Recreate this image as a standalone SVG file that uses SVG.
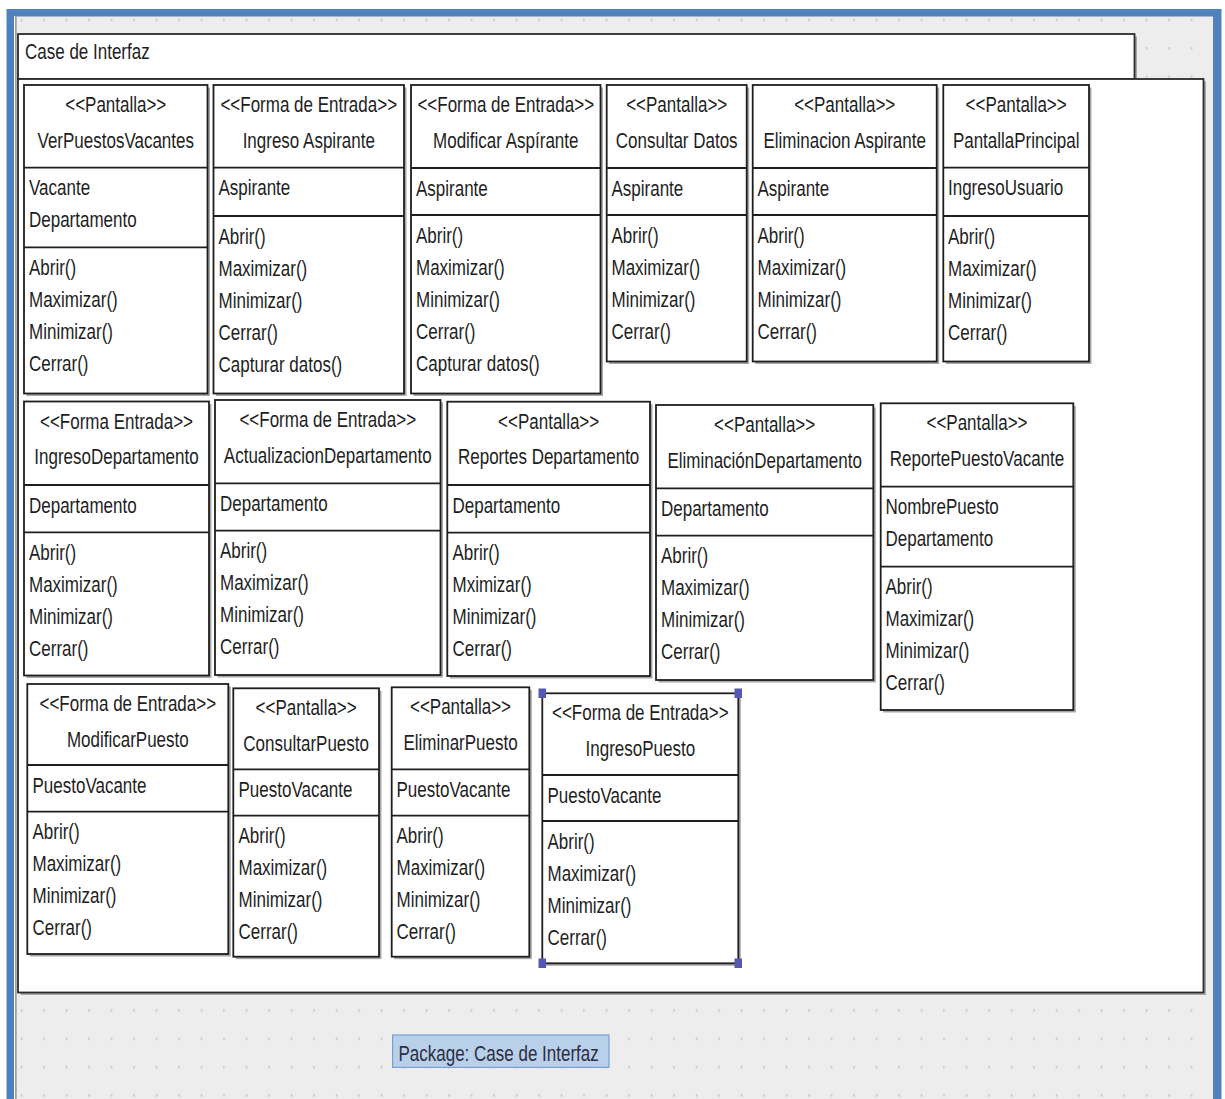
<svg xmlns="http://www.w3.org/2000/svg" width="1225" height="1099" viewBox="0 0 1225 1099">
  <style>
    .box{fill:#fff;stroke:#1e1e1e;stroke-width:1.8}
    .pk{fill:#fff;stroke:#2a2a2a;stroke-width:1.8}
    .sh{fill:#a8a8a8}
    .sep{stroke:#1e1e1e;stroke-width:1.8}
    text{font-family:"Liberation Sans",Arial,Helvetica,sans-serif;font-size:17px;fill:#1e1e1e}
    .c{text-anchor:middle}
    .hd{fill:#5656b4}
    .lbl{fill:#b9d0eb;stroke:#7b9fd4;stroke-width:1.2}
    .lt{fill:#2e2e40}
  </style>
  <defs>
    <pattern id="grid" x="20.75" y="18.8" width="22.5" height="28.3" patternUnits="userSpaceOnUse">
      <rect x="0" y="0" width="1.5" height="2.5" fill="#c3c3c3"/>
    </pattern>
  </defs>

  <!-- window frame and canvas -->
  <rect x="0" y="0" width="1225" height="1099" fill="#fff"/>
  <rect x="6.5" y="9" width="1215" height="1090" fill="#4f81bd"/>
  <rect x="14" y="16.5" width="1199" height="1082.5" fill="#ededed"/>
  <rect x="14" y="16.5" width="1199" height="1082.5" fill="url(#grid)"/>
  <line x1="14.5" y1="16.5" x2="14.5" y2="1099" stroke="#fafafa" stroke-width="1"/>
  <line x1="15.9" y1="16.5" x2="15.9" y2="1099" stroke="#8c8c8c" stroke-width="1.4"/>

  <!-- package -->
  <g id="pkg-case-de-interfaz">
    <rect class="sh" x="20.5" y="36.5" width="1116.5" height="45"/>
    <rect class="sh" x="20.5" y="81.5" width="1185.5" height="913.5"/>
    <rect class="pk" x="18" y="34" width="1116.5" height="45"/>
    <rect class="pk" x="18" y="79" width="1185.5" height="913.5"/>
    <text transform="translate(25 59) scale(1 1.3)">Case de Interfaz</text>
  </g>

  <!-- row 1 -->
  <g id="n-verpuestosvacantes">
    <rect class="sh" x="26.5" y="87.5" width="183.5" height="308.5"/>
    <rect class="box" x="24" y="85" width="183.5" height="308.5"/>
    <line class="sep" x1="24" y1="167.7" x2="207.5" y2="167.7"/>
    <line class="sep" x1="24" y1="247.3" x2="207.5" y2="247.3"/>
    <text class="c" transform="translate(115.75 112) scale(1 1.3)">&lt;&lt;Pantalla&gt;&gt;</text>
    <text class="c" transform="translate(115.75 147.5) scale(1 1.3)">VerPuestosVacantes</text>
    <text transform="translate(29 195.2) scale(1 1.3)">Vacante</text>
    <text transform="translate(29 227.2) scale(1 1.3)">Departamento</text>
    <text transform="translate(29 274.8) scale(1 1.3)">Abrir()</text>
    <text transform="translate(29 306.8) scale(1 1.3)">Maximizar()</text>
    <text transform="translate(29 338.8) scale(1 1.3)">Minimizar()</text>
    <text transform="translate(29 370.8) scale(1 1.3)">Cerrar()</text>
  </g>

  <g id="n-ingreso-aspirante">
    <rect class="sh" x="216" y="87.5" width="190.5" height="308.5"/>
    <rect class="box" x="213.5" y="85" width="190.5" height="308.5"/>
    <line class="sep" x1="213.5" y1="167.7" x2="404" y2="167.7"/>
    <line class="sep" x1="213.5" y1="216" x2="404" y2="216"/>
    <text class="c" transform="translate(308.75 112) scale(1 1.3)">&lt;&lt;Forma de Entrada&gt;&gt;</text>
    <text class="c" transform="translate(308.75 147.5) scale(1 1.3)">Ingreso Aspirante</text>
    <text transform="translate(218.5 195.2) scale(1 1.3)">Aspirante</text>
    <text transform="translate(218.5 243.5) scale(1 1.3)">Abrir()</text>
    <text transform="translate(218.5 275.5) scale(1 1.3)">Maximizar()</text>
    <text transform="translate(218.5 307.5) scale(1 1.3)">Minimizar()</text>
    <text transform="translate(218.5 339.5) scale(1 1.3)">Cerrar()</text>
    <text transform="translate(218.5 371.5) scale(1 1.3)">Capturar datos()</text>
  </g>

  <g id="n-modificar-aspirante">
    <rect class="sh" x="413.5" y="87.5" width="189.5" height="308.5"/>
    <rect class="box" x="411" y="85" width="189.5" height="308.5"/>
    <line class="sep" x1="411" y1="168" x2="600.5" y2="168"/>
    <line class="sep" x1="411" y1="215" x2="600.5" y2="215"/>
    <text class="c" transform="translate(505.75 112) scale(1 1.3)">&lt;&lt;Forma de Entrada&gt;&gt;</text>
    <text class="c" transform="translate(505.75 147.5) scale(1 1.3)">Modificar Aspírante</text>
    <text transform="translate(416 195.5) scale(1 1.3)">Aspirante</text>
    <text transform="translate(416 242.5) scale(1 1.3)">Abrir()</text>
    <text transform="translate(416 274.5) scale(1 1.3)">Maximizar()</text>
    <text transform="translate(416 306.5) scale(1 1.3)">Minimizar()</text>
    <text transform="translate(416 338.5) scale(1 1.3)">Cerrar()</text>
    <text transform="translate(416 370.5) scale(1 1.3)">Capturar datos()</text>
  </g>

  <g id="n-consultar-datos">
    <rect class="sh" x="609.2" y="87.5" width="140" height="276.5"/>
    <rect class="box" x="606.7" y="85" width="140" height="276.5"/>
    <line class="sep" x1="606.7" y1="168" x2="746.7" y2="168"/>
    <line class="sep" x1="606.7" y1="215" x2="746.7" y2="215"/>
    <text class="c" transform="translate(676.7 112) scale(1 1.3)">&lt;&lt;Pantalla&gt;&gt;</text>
    <text class="c" transform="translate(676.7 147.5) scale(1 1.3)">Consultar Datos</text>
    <text transform="translate(611.5 195.5) scale(1 1.3)">Aspirante</text>
    <text transform="translate(611.5 242.5) scale(1 1.3)">Abrir()</text>
    <text transform="translate(611.5 274.5) scale(1 1.3)">Maximizar()</text>
    <text transform="translate(611.5 306.5) scale(1 1.3)">Minimizar()</text>
    <text transform="translate(611.5 338.5) scale(1 1.3)">Cerrar()</text>
  </g>

  <g id="n-eliminacion-aspirante">
    <rect class="sh" x="755.2" y="87.5" width="184" height="276.5"/>
    <rect class="box" x="752.7" y="85" width="184" height="276.5"/>
    <line class="sep" x1="752.7" y1="168" x2="936.7" y2="168"/>
    <line class="sep" x1="752.7" y1="215" x2="936.7" y2="215"/>
    <text class="c" transform="translate(844.7 112) scale(1 1.3)">&lt;&lt;Pantalla&gt;&gt;</text>
    <text class="c" transform="translate(844.7 147.5) scale(1 1.3)">Eliminacion Aspirante</text>
    <text transform="translate(757.5 195.5) scale(1 1.3)">Aspirante</text>
    <text transform="translate(757.5 242.5) scale(1 1.3)">Abrir()</text>
    <text transform="translate(757.5 274.5) scale(1 1.3)">Maximizar()</text>
    <text transform="translate(757.5 306.5) scale(1 1.3)">Minimizar()</text>
    <text transform="translate(757.5 338.5) scale(1 1.3)">Cerrar()</text>
  </g>

  <g id="n-pantallaprincipal">
    <rect class="sh" x="945.8" y="87.5" width="145.7" height="276.5"/>
    <rect class="box" x="943.3" y="85" width="145.7" height="276.5"/>
    <line class="sep" x1="943.3" y1="167.7" x2="1089" y2="167.7"/>
    <line class="sep" x1="943.3" y1="216" x2="1089" y2="216"/>
    <text class="c" transform="translate(1016.15 112) scale(1 1.3)">&lt;&lt;Pantalla&gt;&gt;</text>
    <text class="c" transform="translate(1016.15 147.5) scale(1 1.3)">PantallaPrincipal</text>
    <text transform="translate(948 195.2) scale(1 1.3)">IngresoUsuario</text>
    <text transform="translate(948 243.5) scale(1 1.3)">Abrir()</text>
    <text transform="translate(948 275.5) scale(1 1.3)">Maximizar()</text>
    <text transform="translate(948 307.5) scale(1 1.3)">Minimizar()</text>
    <text transform="translate(948 339.5) scale(1 1.3)">Cerrar()</text>
  </g>

  <!-- row 2 -->
  <g id="n-ingresodepartamento">
    <rect class="sh" x="26.5" y="404" width="185" height="274"/>
    <rect class="box" x="24" y="401.5" width="185" height="274"/>
    <line class="sep" x1="24" y1="485" x2="209" y2="485"/>
    <line class="sep" x1="24" y1="532.3" x2="209" y2="532.3"/>
    <text class="c" transform="translate(116.5 428.5) scale(1 1.3)">&lt;&lt;Forma Entrada&gt;&gt;</text>
    <text class="c" transform="translate(116.5 464) scale(1 1.3)">IngresoDepartamento</text>
    <text transform="translate(29 512.5) scale(1 1.3)">Departamento</text>
    <text transform="translate(29 559.8) scale(1 1.3)">Abrir()</text>
    <text transform="translate(29 591.8) scale(1 1.3)">Maximizar()</text>
    <text transform="translate(29 623.8) scale(1 1.3)">Minimizar()</text>
    <text transform="translate(29 655.8) scale(1 1.3)">Cerrar()</text>
  </g>

  <g id="n-actualizaciondepartamento">
    <rect class="sh" x="217.5" y="402.5" width="225.5" height="275"/>
    <rect class="box" x="215" y="400" width="225.5" height="275"/>
    <line class="sep" x1="215" y1="483.3" x2="440.5" y2="483.3"/>
    <line class="sep" x1="215" y1="530.7" x2="440.5" y2="530.7"/>
    <text class="c" transform="translate(327.75 427) scale(1 1.3)">&lt;&lt;Forma de Entrada&gt;&gt;</text>
    <text class="c" transform="translate(327.75 462.5) scale(1 1.3)">ActualizacionDepartamento</text>
    <text transform="translate(220 510.8) scale(1 1.3)">Departamento</text>
    <text transform="translate(220 558.2) scale(1 1.3)">Abrir()</text>
    <text transform="translate(220 590.2) scale(1 1.3)">Maximizar()</text>
    <text transform="translate(220 622.2) scale(1 1.3)">Minimizar()</text>
    <text transform="translate(220 654.2) scale(1 1.3)">Cerrar()</text>
  </g>

  <g id="n-reportes-departamento">
    <rect class="sh" x="449.8" y="404.2" width="202.7" height="274.3"/>
    <rect class="box" x="447.3" y="401.7" width="202.7" height="274.3"/>
    <line class="sep" x1="447.3" y1="485" x2="650" y2="485"/>
    <line class="sep" x1="447.3" y1="532.7" x2="650" y2="532.7"/>
    <text class="c" transform="translate(548.65 428.7) scale(1 1.3)">&lt;&lt;Pantalla&gt;&gt;</text>
    <text class="c" transform="translate(548.65 464.2) scale(1 1.3)">Reportes Departamento</text>
    <text transform="translate(452.5 512.5) scale(1 1.3)">Departamento</text>
    <text transform="translate(452.5 560.2) scale(1 1.3)">Abrir()</text>
    <text transform="translate(452.5 592.2) scale(1 1.3)">Mximizar()</text>
    <text transform="translate(452.5 624.2) scale(1 1.3)">Minimizar()</text>
    <text transform="translate(452.5 656.2) scale(1 1.3)">Cerrar()</text>
  </g>

  <g id="n-eliminaciondepartamento">
    <rect class="sh" x="658.5" y="407.5" width="217.3" height="275"/>
    <rect class="box" x="656" y="405" width="217.3" height="275"/>
    <line class="sep" x1="656" y1="488.3" x2="873.3" y2="488.3"/>
    <line class="sep" x1="656" y1="535.7" x2="873.3" y2="535.7"/>
    <text class="c" transform="translate(764.65 432) scale(1 1.3)">&lt;&lt;Pantalla&gt;&gt;</text>
    <text class="c" transform="translate(764.65 467.5) scale(1 1.3)">EliminaciónDepartamento</text>
    <text transform="translate(661 515.8) scale(1 1.3)">Departamento</text>
    <text transform="translate(661 563.2) scale(1 1.3)">Abrir()</text>
    <text transform="translate(661 595.2) scale(1 1.3)">Maximizar()</text>
    <text transform="translate(661 627.2) scale(1 1.3)">Minimizar()</text>
    <text transform="translate(661 659.2) scale(1 1.3)">Cerrar()</text>
  </g>

  <g id="n-reportepuestovacante">
    <rect class="sh" x="883.2" y="405.8" width="192.6" height="306.7"/>
    <rect class="box" x="880.7" y="403.3" width="192.6" height="306.7"/>
    <line class="sep" x1="880.7" y1="486.7" x2="1073.3" y2="486.7"/>
    <line class="sep" x1="880.7" y1="566.7" x2="1073.3" y2="566.7"/>
    <text class="c" transform="translate(977 430.3) scale(1 1.3)">&lt;&lt;Pantalla&gt;&gt;</text>
    <text class="c" transform="translate(977 465.8) scale(1 1.3)">ReportePuestoVacante</text>
    <text transform="translate(885.5 514.2) scale(1 1.3)">NombrePuesto</text>
    <text transform="translate(885.5 546.2) scale(1 1.3)">Departamento</text>
    <text transform="translate(885.5 594.2) scale(1 1.3)">Abrir()</text>
    <text transform="translate(885.5 626.2) scale(1 1.3)">Maximizar()</text>
    <text transform="translate(885.5 658.2) scale(1 1.3)">Minimizar()</text>
    <text transform="translate(885.5 690.2) scale(1 1.3)">Cerrar()</text>
  </g>

  <!-- row 3 -->
  <g id="n-modificarpuesto">
    <rect class="sh" x="29.8" y="686.5" width="201" height="270"/>
    <rect class="box" x="27.3" y="684" width="201" height="270"/>
    <line class="sep" x1="27.3" y1="765" x2="228.3" y2="765"/>
    <line class="sep" x1="27.3" y1="811.7" x2="228.3" y2="811.7"/>
    <text class="c" transform="translate(127.8 711) scale(1 1.3)">&lt;&lt;Forma de Entrada&gt;&gt;</text>
    <text class="c" transform="translate(127.8 746.5) scale(1 1.3)">ModificarPuesto</text>
    <text transform="translate(32.5 792.5) scale(1 1.3)">PuestoVacante</text>
    <text transform="translate(32.5 839.2) scale(1 1.3)">Abrir()</text>
    <text transform="translate(32.5 871.2) scale(1 1.3)">Maximizar()</text>
    <text transform="translate(32.5 903.2) scale(1 1.3)">Minimizar()</text>
    <text transform="translate(32.5 935.2) scale(1 1.3)">Cerrar()</text>
  </g>

  <g id="n-consultarpuesto">
    <rect class="sh" x="235.8" y="690.8" width="145.7" height="268.4"/>
    <rect class="box" x="233.3" y="688.3" width="145.7" height="268.4"/>
    <line class="sep" x1="233.3" y1="769.3" x2="379" y2="769.3"/>
    <line class="sep" x1="233.3" y1="815.7" x2="379" y2="815.7"/>
    <text class="c" transform="translate(306.15 715.3) scale(1 1.3)">&lt;&lt;Pantalla&gt;&gt;</text>
    <text class="c" transform="translate(306.15 750.8) scale(1 1.3)">ConsultarPuesto</text>
    <text transform="translate(238.5 796.8) scale(1 1.3)">PuestoVacante</text>
    <text transform="translate(238.5 843.2) scale(1 1.3)">Abrir()</text>
    <text transform="translate(238.5 875.2) scale(1 1.3)">Maximizar()</text>
    <text transform="translate(238.5 907.2) scale(1 1.3)">Minimizar()</text>
    <text transform="translate(238.5 939.2) scale(1 1.3)">Cerrar()</text>
  </g>

  <g id="n-eliminarpuesto">
    <rect class="sh" x="394.2" y="689.8" width="137.6" height="269.4"/>
    <rect class="box" x="391.7" y="687.3" width="137.6" height="269.4"/>
    <line class="sep" x1="391.7" y1="769.3" x2="529.3" y2="769.3"/>
    <line class="sep" x1="391.7" y1="815.7" x2="529.3" y2="815.7"/>
    <text class="c" transform="translate(460.5 714.3) scale(1 1.3)">&lt;&lt;Pantalla&gt;&gt;</text>
    <text class="c" transform="translate(460.5 749.8) scale(1 1.3)">EliminarPuesto</text>
    <text transform="translate(396.5 796.8) scale(1 1.3)">PuestoVacante</text>
    <text transform="translate(396.5 843.2) scale(1 1.3)">Abrir()</text>
    <text transform="translate(396.5 875.2) scale(1 1.3)">Maximizar()</text>
    <text transform="translate(396.5 907.2) scale(1 1.3)">Minimizar()</text>
    <text transform="translate(396.5 939.2) scale(1 1.3)">Cerrar()</text>
  </g>

  <g id="n-ingresopuesto">
    <rect class="sh" x="544.8" y="695.8" width="196" height="270"/>
    <rect class="box" x="542.3" y="693.3" width="196" height="270"/>
    <line class="sep" x1="542.3" y1="775" x2="738.3" y2="775"/>
    <line class="sep" x1="542.3" y1="821" x2="738.3" y2="821"/>
    <text class="c" transform="translate(640.3 720.3) scale(1 1.3)">&lt;&lt;Forma de Entrada&gt;&gt;</text>
    <text class="c" transform="translate(640.3 755.8) scale(1 1.3)">IngresoPuesto</text>
    <text transform="translate(547.5 802.5) scale(1 1.3)">PuestoVacante</text>
    <text transform="translate(547.5 848.5) scale(1 1.3)">Abrir()</text>
    <text transform="translate(547.5 880.5) scale(1 1.3)">Maximizar()</text>
    <text transform="translate(547.5 912.5) scale(1 1.3)">Minimizar()</text>
    <text transform="translate(547.5 944.5) scale(1 1.3)">Cerrar()</text>
    <!-- selection handles -->
    <rect class="hd" x="538.5" y="688.5" width="7.5" height="9.5"/>
    <rect class="hd" x="734.5" y="688.5" width="7.5" height="9.5"/>
    <rect class="hd" x="538.5" y="958.5" width="7.5" height="9.5"/>
    <rect class="hd" x="734.5" y="958.5" width="7.5" height="9.5"/>
  </g>

  <!-- package caption -->
  <g id="caption">
    <rect class="lbl" x="392.6" y="1035" width="216.4" height="32.4"/>
    <text class="lt" transform="translate(398.5 1061) scale(1 1.3)">Package: Case de Interfaz</text>
  </g>
</svg>
